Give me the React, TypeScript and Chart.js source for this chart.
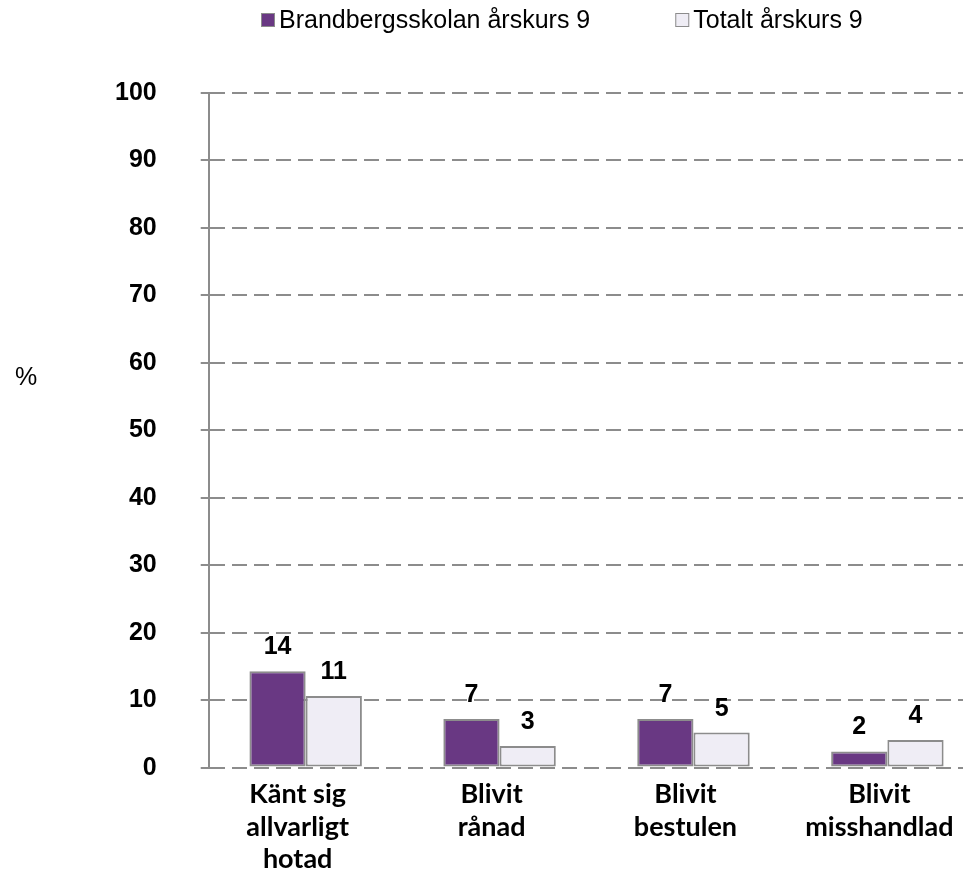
import React, { useEffect, useRef } from "react";
import { Chart, registerables } from "chart.js";

Chart.register(...registerables);

// ---- data ----
const categories: string[][] = [
  ["Känt sig", "allvarligt", "hotad"],
  ["Blivit", "rånad"],
  ["Blivit", "bestulen"],
  ["Blivit", "misshandlad"],
];
const seriesNames = ["Brandbergsskolan årskurs 9", "Totalt årskurs 9"];
const schoolValues = [14.3, 7.2, 7.2, 2.4];
const totalValues = [10.6, 3.2, 5.2, 4.1];
const yMin = 0;
const yMax = 100;
const yStep = 10;
const yAxisTitle = "%";

// ---- styles ----
const PURPLE = "#693883";
const LIGHT = "#efedf5";
const EDGE = "#8c8c8c";
const SANS = "'Liberation Sans', Arial, sans-serif";
const HUMANIST = "Lato, 'Open Sans', sans-serif";

const legendPlugin = {
  id: "customLegend",
  afterDraw(chart: any) {
    const ctx = chart.ctx as CanvasRenderingContext2D;
    ctx.save();
    ctx.font = `25px ${SANS}`;
    ctx.textBaseline = "middle";
    ctx.textAlign = "left";
    let x = 261;
    const y = 20;
    chart.data.datasets.forEach((ds: any) => {
      ctx.fillStyle = ds.backgroundColor;
      ctx.fillRect(x, y - 7, 14, 14);
      ctx.strokeStyle = EDGE;
      ctx.lineWidth = 1;
      ctx.strokeRect(x + 0.5, y - 6.5, 13, 13);
      ctx.fillStyle = "#000";
      ctx.fillText(ds.label, x + 18, y + 1);
      x += 18 + ctx.measureText(ds.label).width + 85;
    });
    ctx.restore();
  },
};

const axisTitlePlugin = {
  id: "yTitle",
  afterDraw(chart: any) {
    const ctx = chart.ctx as CanvasRenderingContext2D;
    ctx.save();
    ctx.font = `25px ${SANS}`;
    ctx.fillStyle = "#000";
    ctx.textAlign = "center";
    ctx.textBaseline = "middle";
    ctx.fillText(yAxisTitle, 26, 378);
    ctx.restore();
  },
};

const dataLabelPlugin = {
  id: "dataLabels",
  afterDatasetsDraw(chart: any) {
    const ctx = chart.ctx as CanvasRenderingContext2D;
    ctx.save();
    ctx.font = `bold 25px ${SANS}`;
    ctx.fillStyle = "#000";
    ctx.textAlign = "center";
    ctx.textBaseline = "alphabetic";
    chart.data.datasets.forEach((ds: any, di: number) => {
      const meta = chart.getDatasetMeta(di);
      meta.data.forEach((el: any, i: number) => {
        const v = ds.data[i].y;
        ctx.fillText(String(Math.round(v)), el.x, el.y - 17);
      });
    });
    ctx.restore();
  },
};

export default function App() {
  const ref = useRef<HTMLCanvasElement>(null);

  useEffect(() => {
    if (!ref.current) return;
    const chart = new Chart(ref.current, {
      type: "bar",
      data: {
        datasets: [
          {
            label: seriesNames[0],
            data: schoolValues.map((v, i) => ({ x: i, y: v })),
            backgroundColor: PURPLE,
            borderColor: EDGE,
            borderWidth: 2,
            borderSkipped: false,
          },
          {
            label: seriesNames[1],
            data: totalValues.map((v, i) => ({ x: i, y: v })),
            backgroundColor: LIGHT,
            borderColor: EDGE,
            borderWidth: 2,
            borderSkipped: false,
          },
        ],
      },
      options: {
        responsive: false,
        animation: false,
        devicePixelRatio: 1,
        categoryPercentage: 0.58,
        barPercentage: 1,
        layout: { padding: { left: 71, right: 6, top: 93, bottom: -17 } },
        plugins: {
          legend: { display: false },
          tooltip: { enabled: false },
        },
        scales: {
          x: {
            type: "linear",
            offset: false,
            min: -0.5,
            max: 3.39,
            afterBuildTicks: (scale: any) => {
              scale.ticks = categories.map((_, i) => ({ value: i }));
            },
            afterFit: (scale: any) => {
              scale.paddingLeft = 0;
              scale.paddingRight = 0;
            },
            grid: { display: false, drawTicks: false, offset: false },
            border: { display: false },
            ticks: {
              autoSkip: false,
              maxRotation: 0,
              minRotation: 0,
              padding: 11,
              labelOffset: -8,
              color: "#000",
              font: { family: HUMANIST, size: 27, weight: "bold", lineHeight: 1.19 },
              callback: (value: any) => categories[Math.round(value)] ?? "",
            },
          },
          y: {
            min: yMin,
            max: yMax,
            ticks: {
              stepSize: yStep,
              padding: 44,
              color: "#000",
              font: { family: SANS, size: 25, weight: "bold" },
            },
            grid: {
              color: EDGE,
              lineWidth: 2,
              tickLength: 8,
              tickColor: EDGE,
              tickWidth: 2,
              tickBorderDash: [],
            },
            border: { display: true, color: EDGE, width: 2, dash: [15, 7] },
          },
        },
      },
      plugins: [legendPlugin, axisTitlePlugin, dataLabelPlugin],
    } as any);
    return () => chart.destroy();
  }, []);

  return (
    <div style={{ position: "absolute", left: 0, top: 0, width: 969, height: 869 }}>
      <canvas ref={ref} width={969} height={869} />
    </div>
  );
}
